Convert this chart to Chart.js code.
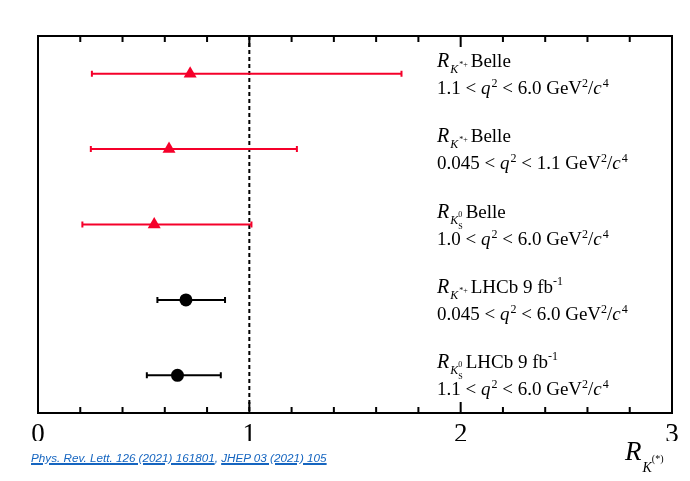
<!DOCTYPE html>
<html>
<head>
<meta charset="utf-8">
<script src="https://cdn.jsdelivr.net/npm/chart.js@4/dist/chart.umd.min.js"></script>
<style>
  html, body { margin: 0; padding: 0; background: #fff; }
  #wrap { position: relative; width: 690px; height: 481px; }
  #cite { position: absolute; left: 31px; top: 451px; font: italic 11.7px "Liberation Sans", Arial, sans-serif; color: #1565c0; }
  #cite a { color: #1565c0; text-decoration: underline; text-decoration-thickness: 2px; }
</style>
</head>
<body>
<div id="wrap">
  <canvas id="grafico" width="690" height="481"></canvas>
  <div id="cite"><a href="#">Phys. Rev. Lett. 126 (2021) 161801</a>, <a href="#">JHEP 03 (2021) 105</a></div>
</div>
<script>
// valores (de arriba hacia abajo)
const filas = [4.5, 3.5, 2.5, 1.5, 0.5];
const experimentos = ['Belle', 'Belle', 'Belle', 'LHCb', 'LHCb'];
const mesones = ['K*+', 'K*+', 'KS0', 'K*+', 'KS0'];
const rangosQ2 = [['1.1', '6.0'], ['0.045', '1.1'], ['1.0', '6.0'], ['0.045', '6.0'], ['1.1', '6.0']];
const valorCentral = [0.72, 0.62, 0.55, 0.70, 0.66];
const errorBajo = [0.255, 0.25, 0.21, 0.565, 0.515];
const errorAlto = [1.72, 1.225, 1.01, 0.885, 0.865];
const ticksEjeX = [0, 1, 2, 3];

const ROJO = '#f5002a';
const NEGRO = '#000';

function puntos(exp) {
    const out = [];
    for (let i = 0; i < filas.length; i++) {
        if (experimentos[i] === exp) {
            out.push({ x: valorCentral[i], y: filas[i], lo: errorBajo[i], hi: errorAlto[i] });
        }
    }
    return out;
}

// texto con subindices / superindices
function textoRico(ctx, x, y, partes) {
    for (const p of partes) {
        ctx.font = (p.i ? 'italic ' : '') + p.s + 'px "Liberation Serif", "Times New Roman", serif';
        ctx.fillText(p.t, x, y + (p.dy || 0));
        if (!p.fijo) x += ctx.measureText(p.t).width + (p.g || 0);
    }
}

function partesMeson(m) {
    if (m === 'K*+') {
        return [
            { t: 'R', i: true, s: 20, g: 1 },
            { t: 'K', i: true, s: 12, dy: 6, g: 1 },
            { t: '*+', s: 8, dy: 0, g: 3 }
        ];
    }
    return [
        { t: 'R', i: true, s: 20, g: 1 },
        { t: 'K', i: true, s: 12, dy: 6, g: 0 },
        { t: '0', s: 8, dy: -1, fijo: true },
        { t: 'S', s: 8, dy: 11, g: 3 }
    ];
}

const pluginDibujo = {
    id: 'dibujo',
    beforeDatasetsDraw(chart) {
        const { ctx, chartArea: a, scales: { x, y } } = chart;
        ctx.save();
        // linea discontinua en 1
        ctx.strokeStyle = NEGRO;
        ctx.lineWidth = 2;
        ctx.setLineDash([4, 3]);
        ctx.beginPath();
        ctx.moveTo(x.getPixelForValue(1), a.top);
        ctx.lineTo(x.getPixelForValue(1), a.bottom);
        ctx.stroke();
        ctx.setLineDash([]);
        // barras de error
        chart.data.datasets.forEach(ds => {
            ctx.strokeStyle = ds.borderColor;
            ds.data.forEach(p => {
                const py = y.getPixelForValue(p.y);
                const x0 = x.getPixelForValue(p.lo);
                const x1 = x.getPixelForValue(p.hi);
                ctx.lineWidth = 2;
                ctx.beginPath();
                ctx.moveTo(x0, py);
                ctx.lineTo(x1, py);
                ctx.stroke();
                ctx.beginPath();
                ctx.moveTo(x0, py - 3);
                ctx.lineTo(x0, py + 3);
                ctx.moveTo(x1, py - 3);
                ctx.lineTo(x1, py + 3);
                ctx.stroke();
            });
        });
        ctx.restore();
    },
    afterDraw(chart) {
        const { ctx, chartArea: a, scales: { x, y } } = chart;
        ctx.save();
        // marco
        ctx.strokeStyle = NEGRO;
        ctx.lineWidth = 2;
        ctx.strokeRect(a.left, a.top, a.right - a.left, a.bottom - a.top);
        // marcas hacia dentro arriba y abajo
        x.ticks.forEach(t => {
            const px = x.getPixelForValue(t.value);
            const mayor = Math.abs(t.value - Math.round(t.value)) < 1e-6;
            const largo = mayor ? 11 : 6;
            ctx.beginPath();
            ctx.moveTo(px, a.bottom);
            ctx.lineTo(px, a.bottom - largo);
            ctx.moveTo(px, a.top);
            ctx.lineTo(px, a.top + largo);
            ctx.stroke();
        });
        // etiquetas de cada medida
        ctx.fillStyle = NEGRO;
        ctx.textBaseline = 'alphabetic';
        ctx.textAlign = 'left';
        const tx = 437;
        for (let i = 0; i < filas.length; i++) {
            const py = y.getPixelForValue(filas[i]);
            let l1 = partesMeson(mesones[i]);
            if (experimentos[i] === 'Belle') {
                l1 = l1.concat([{ t: 'Belle', s: 19 }]);
            } else {
                l1 = l1.concat([{ t: 'LHCb 9 fb', s: 19 }, { t: '-1', s: 12, dy: -8 }]);
            }
            textoRico(ctx, tx, py - 7, l1);
            const q = rangosQ2[i];
            textoRico(ctx, tx, py + 20, [
                { t: q[0] + ' < ', s: 19 },
                { t: 'q', i: true, s: 19, g: 1 },
                { t: '2', s: 12, dy: -7 },
                { t: ' < ' + q[1] + ' GeV', s: 19 },
                { t: '2', s: 12, dy: -7 },
                { t: '/', s: 19 },
                { t: 'c', i: true, s: 19, g: 1 },
                { t: '4', s: 12, dy: -7 }
            ]);
        }
        // titulo del eje x
        textoRico(ctx, 625, 460, [
            { t: 'R', i: true, s: 27, g: 1 },
            { t: 'K', i: true, s: 14, dy: 12, g: 0 },
            { t: '(*)', s: 10, dy: 2 }
        ]);
        ctx.restore();
    }
};

const ctx = document.getElementById('grafico').getContext('2d');
const myChart = new Chart(ctx, {
    type: 'scatter',
    data: {
        datasets: [
            {
                label: 'Belle',
                data: puntos('Belle'),
                pointStyle: 'triangle',
                pointRadius: 7.5,
                backgroundColor: ROJO,
                borderColor: ROJO,
                borderWidth: 0,
            },
            {
                label: 'LHCb',
                data: puntos('LHCb'),
                pointStyle: 'circle',
                pointRadius: 6.5,
                backgroundColor: NEGRO,
                borderColor: NEGRO,
                borderWidth: 0,
            },
        ],
    },
    options: {
        responsive: false,
        animation: false,
        layout: { padding: { left: 38, right: 18, top: 36, bottom: 40 } },
        plugins: { legend: { display: false }, tooltip: { enabled: false } },
        scales: {
            x: {
                type: 'linear',
                min: 0,
                max: 3,
                grid: { display: false },
                border: { display: false },
                ticks: {
                    stepSize: 0.2,
                    autoSkip: false,
                    maxRotation: 0,
                    padding: -2,
                    color: NEGRO,
                    font: { family: '"Liberation Serif", serif', size: 27 },
                    callback: v => ticksEjeX.find(t => Math.abs(t - v) < 1e-6) !== undefined ? String(Math.round(v)) : '',
                },
                afterFit: s => { s.height = 28; },
            },
            y: {
                type: 'linear',
                display: false,
                min: 0,
                max: 5,
            },
        },
    },
    plugins: [pluginDibujo],
});
</script>
</body>
</html>
